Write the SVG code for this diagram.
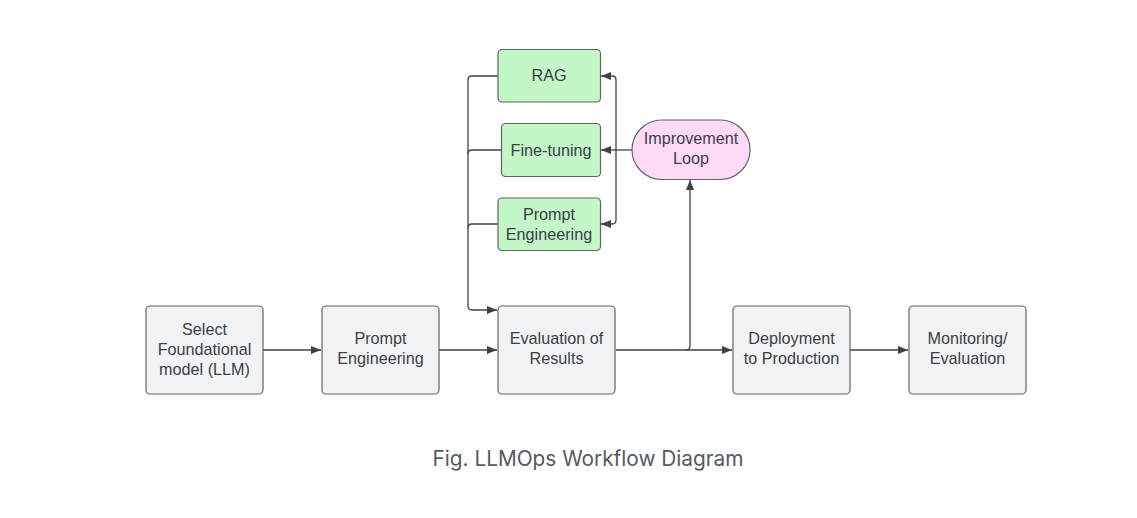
<svg xmlns="http://www.w3.org/2000/svg" width="1137" height="518" viewBox="0 0 1137 518">
<defs>
<style>
.box{fill:#f2f3f5;stroke:#5f646b;stroke-width:1.2}
.green{fill:#c3f7c8;stroke:#5f646b;stroke-width:1.2}
.pink{fill:#ffd9f5;stroke:#5f646b;stroke-width:1.2}
.t{font-family:"Liberation Sans",Arial,sans-serif;font-size:16.2px;fill:#3a3f47;text-anchor:middle}
.c{fill:none;stroke:#3e434a;stroke-width:1.3}
.cap{font-family:Inter,"Liberation Sans",sans-serif;font-size:20.8px;fill:#555a62;text-anchor:middle}
</style>
<marker id="ah" viewBox="0 0 10 10" refX="10" refY="5" markerWidth="10" markerHeight="10" markerUnits="userSpaceOnUse" orient="auto">
<path d="M0,1 L10,5 L0,9 z" fill="#3e434a"/>
</marker>
</defs>
<rect width="1137" height="518" fill="#ffffff"/>
<g id="connectors">
<path class="c" d="M263,350 H321" marker-end="url(#ah)"/>
<path class="c" d="M439,350 H497" marker-end="url(#ah)"/>
<path class="c" d="M616,350 H732" marker-end="url(#ah)"/>
<path class="c" d="M850,350 H908" marker-end="url(#ah)"/>
<path class="c" d="M686,350 Q690,350 690,346 V180" marker-end="url(#ah)"/>
<path class="c" d="M498,76 H472 Q468,76 468,80 V306 Q468,310 472,310 H497" marker-end="url(#ah)"/>
<path class="c" d="M501,150 H472 Q468,150 468,154"/>
<path class="c" d="M498,224 H472 Q468,224 468,228"/>
<path class="c" d="M632,150 H616"/>
<path class="c" d="M616,150 V80 Q616,76 612,76 H601" marker-end="url(#ah)"/>
<path class="c" d="M616,150 H601" marker-end="url(#ah)"/>
<path class="c" d="M616,150 V220 Q616,224 612,224 H601" marker-end="url(#ah)"/>
</g>
<g id="n1"><rect class="box" x="146" y="306" width="117" height="88" rx="4"/><text class="t" x="204.5" y="334.5">Select</text><text class="t" x="204.5" y="354.5">Foundational</text><text class="t" x="204.5" y="374.5">model (LLM)</text></g>
<g id="n2"><rect class="box" x="322" y="306" width="117" height="88" rx="4"/><text class="t" x="380.5" y="344">Prompt</text><text class="t" x="380.5" y="364">Engineering</text></g>
<g id="n3"><rect class="box" x="498" y="306" width="117" height="88" rx="4"/><text class="t" x="556.5" y="344">Evaluation of</text><text class="t" x="556.5" y="364">Results</text></g>
<g id="n4"><rect class="box" x="733" y="306" width="117" height="88" rx="4"/><text class="t" x="791.5" y="344">Deployment</text><text class="t" x="791.5" y="364">to Production</text></g>
<g id="n5"><rect class="box" x="909" y="306" width="117" height="88" rx="4"/><text class="t" x="967.5" y="344">Monitoring/</text><text class="t" x="967.5" y="364">Evaluation</text></g>
<g id="rag"><rect class="green" x="498" y="49.5" width="102.5" height="52.5" rx="4"/><text class="t" x="549" y="81">RAG</text></g>
<g id="ft"><rect class="green" x="501.5" y="123.5" width="99" height="53" rx="4"/><text class="t" x="551" y="155.5">Fine-tuning</text></g>
<g id="pe"><rect class="green" x="498" y="198" width="102.5" height="52.5" rx="4"/><text class="t" x="549" y="220">Prompt</text><text class="t" x="549" y="240">Engineering</text></g>
<g id="loop"><rect class="pink" x="632" y="120" width="118" height="59.5" rx="29.75"/><text class="t" x="691" y="144">Improvement</text><text class="t" x="691" y="164">Loop</text></g>
<text class="cap" x="588" y="466">Fig. LLMOps Workflow Diagram</text>
</svg>
